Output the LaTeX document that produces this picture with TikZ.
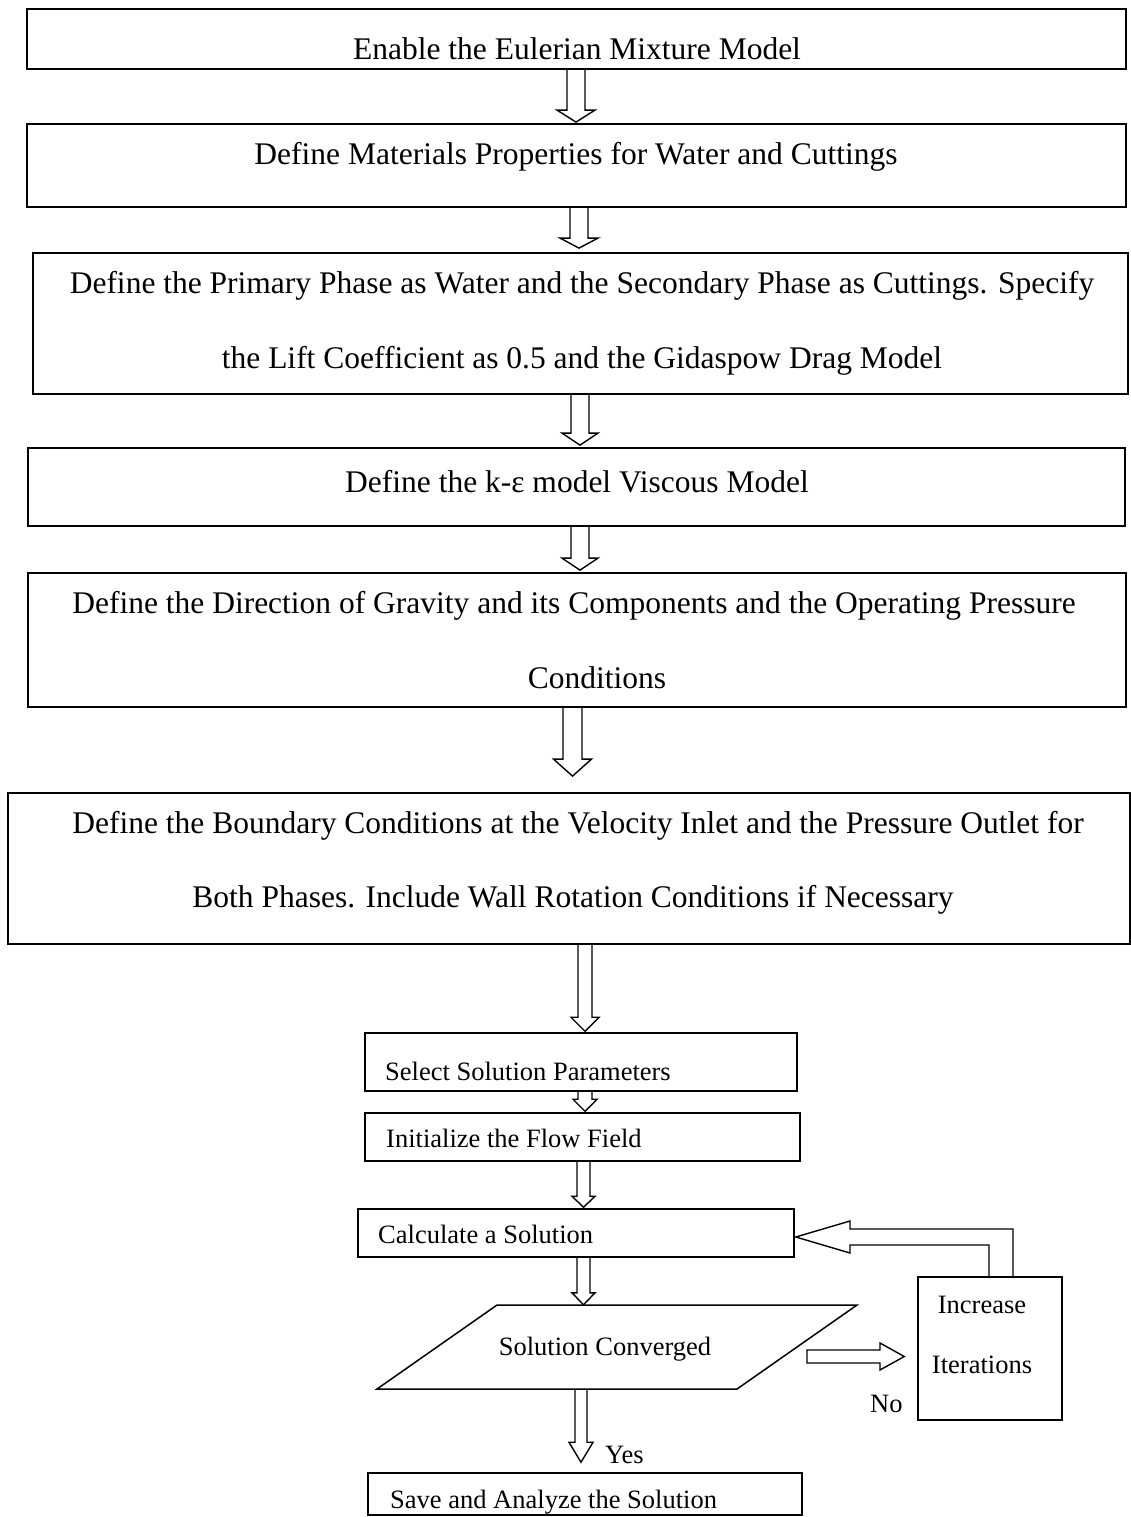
\documentclass[tikz,border=0pt]{standalone}
\usepackage{fontspec}
\setmainfont{Liberation Serif}
\usetikzlibrary{calc,fit}
% #1 upper node, #2 lower node, #3 x centre, #4 shaft half width, #5 head half width, #6 head length, #7 gap above lower node
\newcommand\blkdown[7]{%
  \draw[blk] let \p1=(#1.south), \p2=(#2.north) in
  (#3pt-#4pt,\y1) -- (#3pt-#4pt,\y2+#7pt+#6pt) -- (#3pt-#5pt,\y2+#7pt+#6pt) -- (#3pt,\y2+#7pt)
  -- (#3pt+#5pt,\y2+#7pt+#6pt) -- (#3pt+#4pt,\y2+#7pt+#6pt) -- (#3pt+#4pt,\y1);}
\begin{document}
\begin{tikzpicture}[x=1pt,y=-1pt,
  box/.style={draw, line width=1.8pt, inner sep=0pt},
  sbox/.style={draw, line width=1.5pt, inner sep=0pt},
  ghost/.style={inner sep=0pt},
  blk/.style={draw, line width=1.4pt, line join=miter},
  big/.style={font=\fontsize{31.5}{75}\selectfont, inner sep=0pt, anchor=base},
  small/.style={font=\fontsize{26.5}{32}\selectfont, inner sep=0pt, anchor=base west}]
\useasboundingbox (0,0) rectangle (1131,1517);

% boxes
\node[box, fit={(27,9)(1126,69)}] (b1) {};
\node[box, fit={(27,124)(1126,207)}] (b2) {};
\node[box, fit={(33,253)(1128,394)}] (b3) {};
\node[box, fit={(28,448)(1125,526)}] (b4) {};
\node[box, fit={(28,573)(1126,707)}] (b5) {};
\node[box, fit={(8,793)(1130,944)}] (b6) {};
\node[sbox, fit={(365,1033)(797,1091)}] (b7) {};
\node[sbox, fit={(365,1113)(800,1161)}] (b8) {};
\node[sbox, fit={(358,1209)(794,1257)}] (b9) {};
\node[ghost, fit={(377,1305)(857,1389)}] (conv) {};
\draw[sbox] (497,1305) -- (857,1305) -- (737,1389) -- (377,1389) -- cycle;
\node[sbox, fit={(918,1277)(1062,1420)}] (inc) {};
\node[sbox, fit={(368,1473)(802,1515)}] (save) {};

% texts
\node[big] (t1) at (577,60) {Enable the Eulerian Mixture Model};
\node[big] (t2) at (576,165) {Define Materials Properties for Water and Cuttings};
\node[big] (t3a) at (582,293) {Define the Primary Phase as Water and the Secondary Phase as Cuttings. Specify};
\node[big] (t3b) at (582,368) {the Lift Coefficient as 0.5 and the Gidaspow Drag Model};
\node[big] (t4) at (577,492) {Define the k-ε model Viscous Model};
\node[big] (t5a) at (574,613) {Define the Direction of Gravity and its Components and the Operating Pressure};
\node[big] (t5b) at (597,688) {Conditions};
\node[big] (t6a) at (578,833) {Define the Boundary Conditions at the Velocity Inlet and the Pressure Outlet for};
\node[big] (t6b) at (573,907) {Both Phases. Include Wall Rotation Conditions if Necessary};
\node[small] (t7) at (385,1080) {Select Solution Parameters};
\node[small] (t8) at (386,1147) {Initialize the Flow Field};
\node[small] (t9) at (378,1243) {Calculate a Solution};
\node[small, anchor=base] (t10) at (605,1355) {Solution Converged};
\node[small, anchor=base] (t11) at (982,1313) {Increase};
\node[small, anchor=base] (t12) at (982,1373) {Iterations};
\node[small] (no) at (870,1412) {No};
\node[small] (yes) at (605,1463) {Yes};
\node[small] (t13) at (390,1508) {Save and Analyze the Solution};

% block arrows
\blkdown{b1}{b2}{576}{9}{19}{12}{1}
\blkdown{b2}{b3}{579}{9}{19}{10}{4}
\blkdown{b3}{b4}{580}{9}{18}{12}{2}
\blkdown{b4}{b5}{580}{9}{18}{12}{2}
\blkdown{b5}{b6}{572.5}{9.5}{19}{17}{16}
\blkdown{b6}{b7}{585}{7}{14}{14}{1}
\blkdown{b7}{b8}{585}{7}{12}{12}{1}
\blkdown{b8}{b9}{583.5}{6.5}{11.5}{11}{1}
\blkdown{b9}{conv}{583.5}{6.5}{11.5}{12}{0}
\blkdown{conv}{save}{581}{6}{12}{20}{10}

\draw[blk] let \p2=(inc.west) in
  (807,1350) -- (880,1350) -- (880,1343) -- (\x2-13pt,-1356.5pt) -- (880,1370) -- (880,1363) -- (807,1363) -- cycle;

\draw[blk] let \p1=(inc.north), \p2=(b9.east) in
  (989pt,\y1) -- (989,1245) -- (850,1245) -- (850,1253) -- (\x2+1pt,-1237pt)
  -- (850,1221) -- (850,1229) -- (1013,1229) -- (1013pt,\y1);
\end{tikzpicture}
\end{document}
